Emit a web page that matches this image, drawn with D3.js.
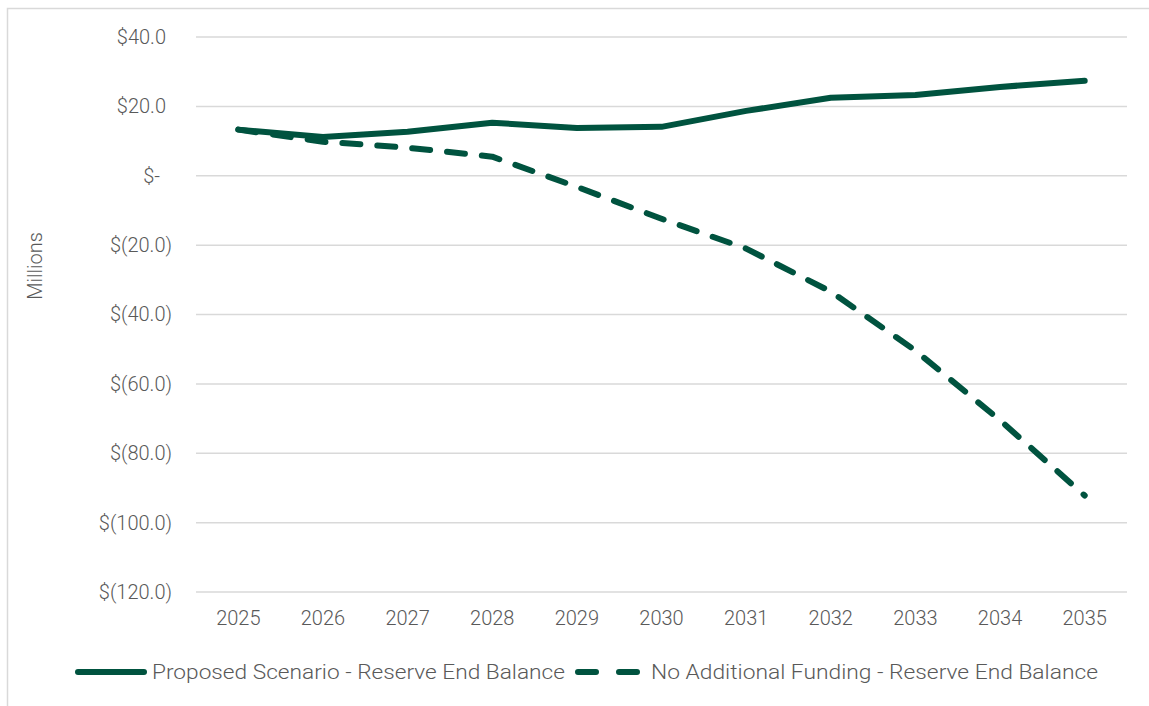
<!DOCTYPE html>
<html>
<head>
<meta charset="utf-8">
<script src="https://cdn.jsdelivr.net/npm/d3@7"></script>
<style>
  html, body { margin: 0; padding: 0; background: #fff; }
  svg { display: block; }
  text { font-family: Roboto, "Noto Sans", sans-serif; font-weight: 300; fill: #595959; }
</style>
</head>
<body>
<svg id="chart" width="1149" height="706"></svg>
<script>
// Reserve end balance projections, $ millions
const years = ["2025","2026","2027","2028","2029","2030","2031","2032","2033","2034","2035"];
const proposed = [13.3, 11.2, 12.7, 15.3, 13.8, 14.1, 18.7, 22.5, 23.3, 25.6, 27.4];
const noFunding = [13.3, 9.8, 8.1, 5.5, -3.2, -12.4, -21.0, -33.4, -50.4, -70.5, -92.2];
const yTicks = [40, 20, 0, -20, -40, -60, -80, -100, -120];
const seriesNames = ["Proposed Scenario - Reserve End Balance", "No Additional Funding - Reserve End Balance"];

const svg = d3.select("#chart");
const green = "#00533f";

// chart frame
svg.append("rect")
  .attr("x", 7.5).attr("y", 8.5)
  .attr("width", 1160).attr("height", 720)
  .attr("fill", "none").attr("stroke", "#d9d9d9").attr("stroke-width", 1.5);

const x = d3.scaleBand().domain(years).range([196, 1127]);
const y = d3.scaleLinear().domain([-120, 40]).range([592, 37]);

// accounting-style labels: negatives in parentheses, zero as a dash
const fmt = v => v === 0 ? "$-" : v > 0 ? "$" + v.toFixed(1) : "$(" + Math.abs(v).toFixed(1) + ")";

// gridlines
svg.append("g")
  .selectAll("line").data(yTicks).join("line")
  .attr("x1", 196).attr("x2", 1127)
  .attr("y1", d => y(d)).attr("y2", d => y(d))
  .attr("stroke", "#d9d9d9").attr("stroke-width", 1.5);

// y axis labels (parenthesised values hang past the digit column)
const yAxis = svg.append("g").attr("transform", "translate(196,0)")
  .call(d3.axisLeft(y).tickValues(yTicks).tickFormat(fmt).tickSize(0).tickPadding(30));
yAxis.select(".domain").remove();
yAxis.selectAll("text").attr("font-size", 20).attr("fill", "#595959")
  .attr("dx", d => d < 0 ? 6 : d === 0 ? -6 : 0)
  .style("font-family", "Roboto, sans-serif").style("font-weight", 300);

// x axis labels
const xAxis = svg.append("g").attr("transform", "translate(0,607)")
  .call(d3.axisBottom(x).tickSize(0).tickPadding(4));
xAxis.select(".domain").remove();
xAxis.selectAll("text").attr("font-size", 20).attr("fill", "#595959")
  .style("font-family", "Roboto, sans-serif").style("font-weight", 300);

// axis title
svg.append("text")
  .attr("transform", "translate(42,266) rotate(-90)")
  .attr("text-anchor", "middle")
  .attr("font-size", 20)
  .text("Millions");

const line = d3.line()
  .x((d, i) => x(years[i]) + x.bandwidth() / 2)
  .y(d => y(d));

svg.append("path").datum(noFunding)
  .attr("d", line)
  .attr("fill", "none").attr("stroke", green).attr("stroke-width", 6)
  .attr("stroke-linecap", "round").attr("stroke-linejoin", "round")
  .attr("stroke-dasharray", "18 17");

svg.append("path").datum(proposed)
  .attr("d", line)
  .attr("fill", "none").attr("stroke", green).attr("stroke-width", 6)
  .attr("stroke-linecap", "round").attr("stroke-linejoin", "round");

// legend
const lg = svg.append("g");
lg.append("line").attr("x1", 78).attr("x2", 144).attr("y1", 672).attr("y2", 672)
  .attr("stroke", green).attr("stroke-width", 6).attr("stroke-linecap", "round");
lg.append("text").attr("x", 152).attr("y", 679).attr("font-size", 21)
  .attr("textLength", 413).attr("lengthAdjust", "spacingAndGlyphs")
  .text(seriesNames[0]);
lg.append("line").attr("x1", 578).attr("x2", 640).attr("y1", 672).attr("y2", 672)
  .attr("stroke", green).attr("stroke-width", 6).attr("stroke-linecap", "round")
  .attr("stroke-dasharray", "18 23");
lg.append("text").attr("x", 651).attr("y", 679).attr("font-size", 21)
  .attr("textLength", 447).attr("lengthAdjust", "spacingAndGlyphs")
  .text(seriesNames[1]);
</script>
</body>
</html>
